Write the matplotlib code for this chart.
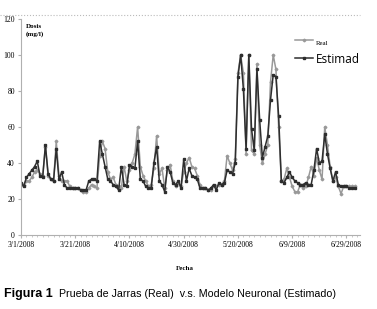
import matplotlib
matplotlib.use('Agg')
import matplotlib.pyplot as plt
import matplotlib.dates as mdates
from matplotlib.lines import Line2D
import pandas as pd

# daily readings, 3/1/2008 onwards
start = '2008-03-01'
real = [28, 28, 30, 30, 32, 35, 36, 34, 33, 49, 33, 31, 30, 52, 33, 30, 30, 30, 27, 26,
        26, 26, 25, 24, 24, 26, 28, 27, 26, 44, 52, 48, 35, 31, 32, 28, 27, 26, 38, 30,
        36, 40, 45, 60, 38, 33, 30, 27, 28, 37, 55, 34, 37, 26, 36, 39, 30, 27, 29, 27,
        35, 40, 43, 38, 37, 33, 28, 26, 26, 25, 25, 27, 27, 28, 28, 30, 44, 40, 36, 42,
        90, 100, 90, 45, 100, 47, 45, 95, 50, 40, 45, 50, 85, 100, 92, 60, 30, 31, 37, 32,
        27, 24, 24, 28, 26, 27, 32, 38, 33, 43, 36, 31, 60, 50, 38, 30, 32, 27, 23, 27,
        27, 27, 27, 27]
estimado = [29, 27, 32, 34, 36, 38, 41, 33, 32, 50, 34, 31, 30, 48, 31, 35, 28, 26, 26, 26,
            26, 26, 25, 25, 25, 30, 31, 31, 30, 52, 45, 38, 31, 30, 28, 27, 25, 38, 28, 27,
            39, 38, 37, 52, 31, 30, 27, 26, 26, 40, 49, 30, 28, 24, 38, 35, 29, 28, 30, 26,
            42, 30, 37, 33, 32, 31, 26, 26, 26, 25, 26, 28, 25, 29, 28, 29, 36, 35, 34, 40,
            88, 100, 81, 48, 100, 59, 47, 92, 64, 43, 49, 55, 75, 89, 88, 66, 30, 29, 32, 35,
            32, 30, 29, 28, 28, 29, 28, 28, 36, 48, 40, 41, 56, 45, 37, 30, 35, 28, 27, 27,
            27, 26, 26, 26]
tick_dates = ['2008-03-01', '2008-03-21', '2008-04-10', '2008-04-30',
              '2008-05-20', '2008-06-09', '2008-06-29']
tick_labels = ['3/1/2008', '3/21/2008', '4/10/2008', '4/30/2008',
               '5/20/2008', '6/9/2008', '6/29/2008']
yticks = [0, 20, 40, 60, 80, 100, 120]

fechas = pd.date_range(start, periods=len(real), freq='D')

fig = plt.figure(figsize=(3.77, 3.09), dpi=100)
ax = fig.add_axes([21/377, 1-235/309, (360-21)/377, (235-19)/309])

ax.plot(fechas, real, color='#999999', lw=1.1, marker='D', ms=1.4, label='Real')
ax.plot(fechas, estimado, color='#2e2e2e', lw=1.1, marker='s', ms=1.6, label='Estimad')

ax.set_ylim(0, 120)
ax.set_yticks(yticks)
ax.set_xlim(pd.Timestamp('2008-03-01'), pd.Timestamp('2008-07-04'))
ax.set_xticks(pd.to_datetime(tick_dates))
ax.set_xticklabels(tick_labels)
ax.xaxis.set_minor_locator(mdates.DayLocator(interval=2))
for s in ['top', 'right']:
    ax.spines[s].set_visible(False)
for s in ['left', 'bottom']:
    ax.spines[s].set_color('#b0b0b0')
    ax.spines[s].set_linewidth(0.8)
ax.tick_params(axis='both', which='major', length=2.5, color='#b0b0b0', labelsize=5.5, pad=2)
ax.tick_params(axis='x', which='minor', length=1.2, color='#c0c0c0')
for lab in ax.get_xticklabels() + ax.get_yticklabels():
    lab.set_family('Liberation Serif')

ax.text(0.015, 0.975, 'Dosis\n(mg/l)', transform=ax.transAxes, fontsize=5,
        family='Liberation Serif', fontweight='bold', va='top', ha='left', linespacing=1.5)

leg = ax.legend(loc='upper right', bbox_to_anchor=(1.015, 0.95), frameon=False,
                handlelength=1.3, handletextpad=0.2, labelspacing=0.5, borderaxespad=0)
leg.get_texts()[0].set_fontsize(5)
leg.get_texts()[0].set_family('Liberation Serif')
leg.get_texts()[1].set_fontsize(8.5)
leg.get_texts()[1].set_family('Open Sans')

# dotted frame line across the top of the chart area
fig.add_artist(Line2D([0.0, 360/377], [1-15/309, 1-15/309], transform=fig.transFigure,
                      color='#bbbbbb', lw=0.8, ls=':'))

fig.text(185/377, 1-268/309, 'Fecha', fontsize=5, family='Liberation Serif',
         fontweight='bold', ha='center', va='center')
fig.text(4/377, 1-294/309, 'Figura 1', fontsize=9, family='Liberation Sans',
         fontweight='bold', ha='left', va='center')
fig.text(59/377, 1-294/309, 'Prueba de Jarras (Real)  v.s. Modelo Neuronal (Estimado)',
         fontsize=7.7, family='Liberation Sans', ha='left', va='center')

fig.savefig('out.png', dpi=100)
